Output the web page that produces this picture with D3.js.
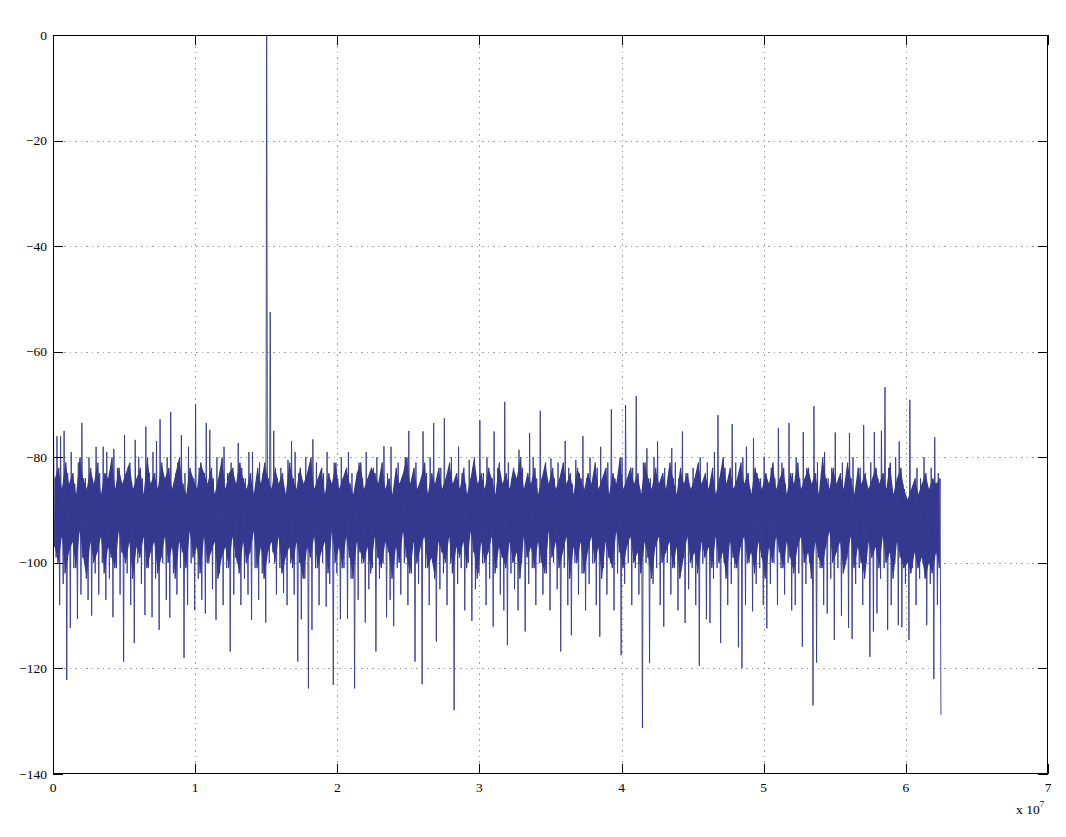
<!DOCTYPE html>
<html>
<head>
<meta charset="utf-8">
<script src="https://cdn.jsdelivr.net/npm/d3@7"></script>
<style>
  html, body { margin: 0; padding: 0; background: #fff; }
  svg { display: block; }
  text { font-family: "Liberation Serif", "Times New Roman", Times, serif; font-size: 13.5px; fill: #000; }
</style>
</head>
<body>
<svg id="chart" width="1066" height="837"></svg>
<script>
// ---- data ----
// Spectrum decimated into 250 bins of 0.025e7 Hz between 0 and 6.25e7 Hz.
// Per bin: highest value, upper edge of the dense part, lower edge of the dense part, lowest value (dB).
const binWidth = 0.025e7;
const binMax = [
  -73, -76, -76, -75, -83, -79, -85, -81, -73.5, -84,
  -80, -86, -78, -83, -78, -79, -84, -78.4, -82, -86,
  -75.8, -82, -85, -76.7, -80, -84, -74.2, -83, -79, -76.9,
  -72.8, -84, -80, -71.4, -86, -81, -75.8, -83, -78, -85,
  -70, -82, -86, -73.5, -74.8, -84, -80, -85, -78, -83,
  -81, -86, -77.3, -82, -84, -79, -79, -85, -81, -83,
  0, -52.5, -75, -84, -82, -86, -80.5, -76.9, -79, -83,
  -85, -80, -84, -76.6, -81, -86, -83, -79, -85, -81,
  -84, -80, -86, -79, -83, -85, -81, -84, -79, -86,
  -82, -80, -85, -77.9, -83, -78, -86, -81, -84, -80,
  -75, -84, -81, -86, -75.1, -83, -80, -73.5, -85, -82,
  -72.6, -84, -80, -86, -78, -83, -85, -80.5, -82, -86,
  -73, -83, -80, -85, -75.1, -82, -86, -69.5, -81, -84,
  -85, -78.6, -82, -86, -75.4, -80, -84, -71.2, -83, -86,
  -80.2, -84, -81, -86, -76.9, -82, -85, -80.5, -83, -76,
  -84, -80, -86, -82, -78, -85, -81, -70.9, -84, -86,
  -80, -70.1, -85, -82, -68.4, -86, -81, -78.3, -84, -80,
  -77, -85, -82, -86, -78.3, -81, -84, -75.1, -83, -86,
  -82, -84, -80, -86, -81, -85, -79, -72, -84, -82,
  -86, -73.7, -81, -85, -80, -78, -86, -76.4, -83, -84,
  -79.9, -86, -82, -84, -74.5, -81, -85, -73.5, -83, -80,
  -84, -75.2, -82, -86, -70.3, -81, -85, -79, -84, -82,
  -75.3, -84, -81, -86, -75.4, -80, -85, -82, -73.9, -86,
  -81, -75.2, -84, -75, -66.7, -82, -86, -80, -77, -85,
  -88, -69.1, -86, -82, -84, -80, -86, -82, -76.2, -83
];
const binInnerHi = [
  -84, -82, -86, -81, -85, -83, -87, -80, -84, -86,
  -82, -85, -81, -87, -83, -84, -80, -86, -82, -85,
  -83, -81, -86, -84, -82, -87, -80, -85, -83, -86,
  -81, -84, -82, -86, -83, -80, -85, -87, -82, -84,
  -86, -81, -83, -85, -82, -87, -84, -80, -86, -83,
  -82, -85, -81, -84, -86, -83, -87, -82, -85, -81,
  -84, -86, -82, -85, -83, -87, -81, -84, -86, -82,
  -85, -83, -80, -86, -84, -82, -87, -83, -85, -81,
  -86, -84, -82, -85, -87, -83, -81, -86, -84, -82,
  -83, -85, -81, -86, -84, -87, -82, -85, -83, -80,
  -85, -82, -86, -84, -81, -87, -83, -85, -82, -86,
  -84, -81, -85, -83, -86, -82, -87, -84, -80, -85,
  -83, -86, -82, -84, -87, -81, -85, -83, -86, -82,
  -84, -80, -86, -83, -85, -82, -87, -84, -81, -85,
  -82, -86, -84, -81, -85, -83, -87, -82, -84, -86,
  -83, -85, -81, -86, -84, -82, -87, -83, -85, -80,
  -86, -84, -82, -85, -83, -87, -81, -84, -86, -82,
  -85, -83, -86, -81, -84, -87, -82, -85, -83, -86,
  -84, -81, -85, -83, -86, -82, -87, -84, -80, -85,
  -82, -86, -84, -81, -85, -83, -87, -82, -84, -86,
  -83, -85, -81, -86, -84, -82, -87, -83, -85, -81,
  -86, -84, -82, -85, -83, -87, -80, -84, -86, -82,
  -85, -83, -86, -81, -84, -87, -82, -85, -83, -86,
  -84, -82, -85, -83, -86, -81, -87, -84, -82, -86,
  -88, -86, -84, -87, -85, -83, -86, -84, -85, -84
];
const binInnerLo = [
  -97, -100, -95, -102, -98, -96, -101, -94, -99, -103,
  -96, -100, -98, -95, -102, -97, -99, -101, -94, -98,
  -100, -96, -103, -97, -99, -95, -101, -98, -96, -102,
  -99, -95, -100, -97, -103, -96, -98, -101, -94, -99,
  -97, -102, -95, -100, -98, -96, -103, -99, -97, -101,
  -95, -99, -102, -96, -100, -98, -94, -101, -97, -103,
  -98, -96, -100, -95, -102, -99, -97, -101, -96, -100,
  -103, -97, -99, -95, -101, -98, -96, -102, -94, -100,
  -97, -101, -95, -99, -103, -96, -98, -100, -97, -102,
  -95, -99, -101, -96, -98, -103, -97, -100, -94, -99,
  -102, -96, -100, -97, -95, -101, -99, -103, -96, -98,
  -100, -95, -102, -97, -99, -96, -101, -94, -98, -103,
  -96, -100, -98, -95, -102, -97, -99, -101, -96, -100,
  -98, -103, -95, -99, -97, -101, -96, -100, -102, -94,
  -99, -96, -101, -98, -95, -103, -97, -100, -96, -102,
  -98, -95, -100, -97, -103, -96, -99, -101, -94, -98,
  -101, -97, -95, -100, -98, -102, -96, -99, -103, -97,
  -95, -100, -98, -96, -101, -97, -103, -99, -95, -100,
  -98, -102, -96, -99, -97, -101, -95, -100, -98, -103,
  -96, -99, -101, -97, -95, -100, -98, -102, -96, -99,
  -103, -97, -100, -95, -98, -101, -96, -99, -102, -97,
  -95, -100, -98, -103, -96, -99, -101, -97, -94, -100,
  -98, -96, -102, -99, -95, -101, -97, -100, -103, -96,
  -99, -97, -101, -95, -100, -98, -103, -96, -99, -101,
  -100, -102, -98, -101, -99, -103, -100, -102, -98, -101
];
const binMin = [
  -99, -108, -104, -122.2, -112.3, -101, -110.6, -106, -100, -107,
  -110, -102, -106, -100, -107, -103, -110.3, -101, -106, -118.7,
  -102, -108, -115.2, -100, -104, -109.9, -101, -110.3, -103, -112.7,
  -100, -107, -110.4, -102, -106, -101, -118, -108, -100, -109,
  -103, -107, -109.6, -100, -105, -110.8, -102, -108, -101, -116.8,
  -106, -100, -108, -103, -106, -110.8, -101, -107, -102, -111.3,
  -100, -98, -106, -101, -105.7, -108, -100, -106, -118.7, -110.7,
  -103, -123.8, -112.7, -101, -108, -100, -108.3, -104, -123.1, -102,
  -110.7, -101, -110.6, -103, -123.8, -107, -100, -111.3, -105, -101,
  -116.8, -103, -100, -110.3, -107, -112, -101, -106, -100, -108,
  -102, -118.7, -104, -123, -101, -108, -100, -114.9, -105, -102,
  -108, -100, -127.9, -104, -101, -109, -100, -111, -105, -102,
  -100, -108, -103, -112.1, -101, -106, -109, -115.6, -102, -105,
  -109, -100, -113, -104, -101, -108, -100, -106, -102, -109,
  -100, -105, -116.8, -101, -108, -113.7, -100, -106, -102, -109,
  -104, -100, -108, -114, -101, -106, -100, -109, -102, -117.5,
  -104, -100, -108, -101, -106, -131.3, -100, -119, -104, -101,
  -108, -112.1, -100, -106, -101, -109, -100, -111.4, -105, -101,
  -108, -119.5, -100, -110.7, -111.4, -103, -101, -115.2, -100, -108,
  -104, -101, -116, -120, -108, -100, -109.2, -104, -101, -108,
  -112.4, -104, -100, -108, -101, -106, -100, -109, -108, -102,
  -115.9, -104, -100, -127, -118.9, -101, -108, -109.6, -103, -114.6,
  -101, -110, -100, -112.3, -114.4, -104, -101, -108, -100, -117.8,
  -113, -109.6, -103, -101, -112.7, -108, -100, -111.8, -112.2, -104,
  -114.6, -101, -108, -103, -100, -111.8, -104, -122, -108, -128.8
];
// Axes
const xTicks = [0, 1e7, 2e7, 3e7, 4e7, 5e7, 6e7, 7e7];
const xTickLabels = ["0", "1", "2", "3", "4", "5", "6", "7"];
const yTicks = [0, -20, -40, -60, -80, -100, -120, -140];
const yTickLabels = ["0", "\u221220", "\u221240", "\u221260", "\u221280", "\u2212100", "\u2212120", "\u2212140"];
const xExponent = "7";

// ---- layout ----
const L = 53, R = 1048, T = 35, B = 774;
const traceColor = "#353a8f";
const svg = d3.select("#chart");
const x = d3.scaleLinear().domain([0, 7e7]).range([L, R]);
const y = d3.scaleLinear().domain([-140, 0]).range([B, T]);

// grid
const grid = svg.append("g").attr("stroke", "#a0a0a0").attr("stroke-width", 1)
  .attr("stroke-dasharray", "1.5,4").attr("shape-rendering", "crispEdges");
grid.selectAll("line.gx").data(xTicks.slice(1, -1)).join("line")
  .attr("x1", d => Math.round(x(d)) + 0.5).attr("x2", d => Math.round(x(d)) + 0.5)
  .attr("y1", T).attr("y2", B);
grid.selectAll("line.gy").data(yTicks.slice(1, -1)).join("line")
  .attr("y1", d => Math.round(y(d)) + 0.5).attr("y2", d => Math.round(y(d)) + 0.5)
  .attr("x1", L).attr("x2", R);

// dense part of the trace: filled between the inner edges of each bin
const bins = binMax.map((mx, i) => ({
  f: (i + 0.5) * binWidth, max: mx, hi: binInnerHi[i], lo: binInnerLo[i], min: binMin[i]
}));
svg.append("path").datum(bins)
  .attr("fill", traceColor)
  .attr("d", d3.area().x(d => x(d.f)).y0(d => y(d.lo)).y1(d => y(d.hi)));

// full trace: max, inner low, inner high, min within each bin
const pts = [];
bins.forEach((b, i) => {
  const f0 = i * binWidth;
  pts.push([f0 + 0.125 * binWidth, b.max]);
  pts.push([f0 + 0.375 * binWidth, b.lo]);
  pts.push([f0 + 0.625 * binWidth, b.hi]);
  pts.push([f0 + 0.875 * binWidth, b.min]);
});
svg.append("path").datum(pts)
  .attr("fill", "none").attr("stroke", traceColor).attr("stroke-width", 0.9)
  .attr("stroke-linejoin", "miter").attr("stroke-miterlimit", 1)
  .attr("d", d3.line().x(d => x(d[0])).y(d => y(d[1])));

// axes box with ticks on all four sides (inside)
const tickLen = 10;
const axes = svg.append("g").attr("stroke", "#000").attr("stroke-width", 1).attr("shape-rendering", "crispEdges");
axes.append("rect").attr("x", L + 0.5).attr("y", T + 0.5).attr("width", R - L - 1).attr("height", B - T - 1)
  .attr("fill", "none");
xTicks.forEach(t => {
  const px = Math.round(x(t)) + 0.5;
  axes.append("line").attr("x1", px).attr("x2", px).attr("y1", B).attr("y2", B - tickLen);
  axes.append("line").attr("x1", px).attr("x2", px).attr("y1", T).attr("y2", T + tickLen);
});
yTicks.forEach(t => {
  const py = Math.round(y(t)) + 0.5;
  axes.append("line").attr("y1", py).attr("y2", py).attr("x1", L).attr("x2", L + tickLen);
  axes.append("line").attr("y1", py).attr("y2", py).attr("x1", R).attr("x2", R - tickLen);
});

// tick labels
svg.append("g").selectAll("text").data(xTicks).join("text")
  .attr("x", d => x(d)).attr("y", B + 18).attr("text-anchor", "middle")
  .text((d, i) => xTickLabels[i]);
svg.append("g").selectAll("text").data(yTicks).join("text")
  .attr("x", L - 6).attr("y", d => y(d) + 4.5).attr("text-anchor", "end")
  .text((d, i) => yTickLabels[i]);

// exponent label
const ex = svg.append("text").attr("x", 1016).attr("y", 814);
ex.append("tspan").text("x 10");
ex.append("tspan").attr("dy", -7).attr("font-size", "9px").text(xExponent);
</script>
</body>
</html>
